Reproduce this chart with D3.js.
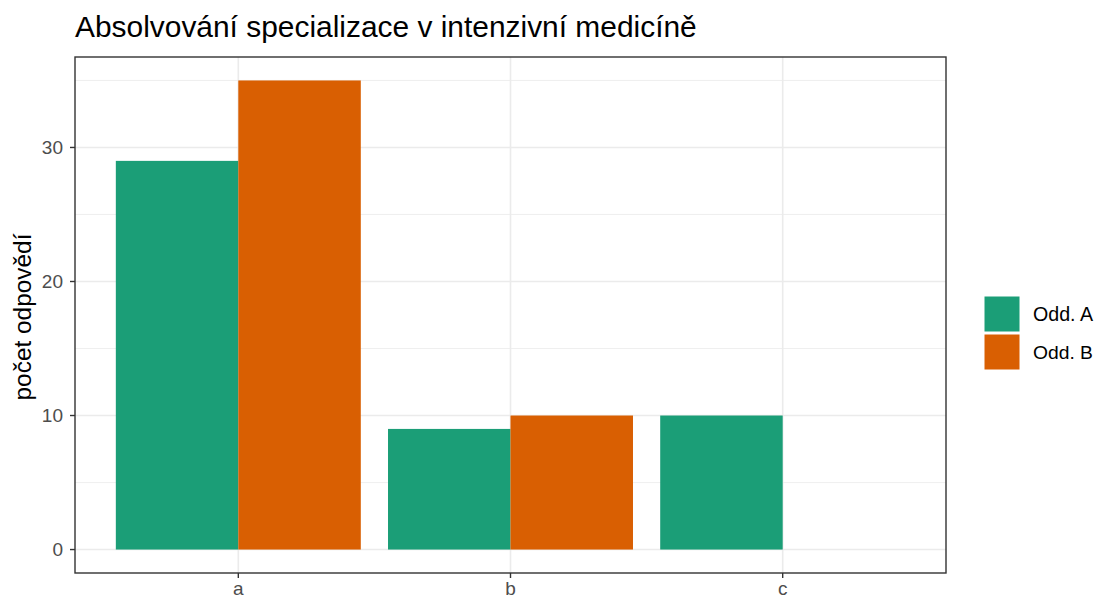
<!DOCTYPE html>
<html><head><meta charset="utf-8">
<script src="https://cdn.jsdelivr.net/npm/d3@7"></script>
<style>body{margin:0;background:#fff}svg{display:block;font-family:"Liberation Sans",Arial,sans-serif}</style>
</head><body><svg id="c" width="1095" height="599"></svg>
<script>
const categories = ["a","b","c"];
const seriesNames = ["Odd. A","Odd. B"];
const oddA = [29, 9, 10];
const oddB = [35, 10, 0];
const colors = ["#1B9E77","#D95F02"];
const yTicks = [0,10,20,30];
const yMinor = [5,15,25,35];
const title = "Absolvování specializace v intenzivní medicíně";
const yTitle = "počet odpovědí";

const svg = d3.select("#c");
const P = {l:75, r:946, t:57, b:573};
// ggplot discrete axis: expand 0.6 units each side
const x = d3.scalePoint().domain(categories).range([P.l,P.r]).padding(0.6);
const unit = x.step();
const yMax = 35;
const y = d3.scaleLinear().domain([-yMax*0.05, yMax*1.05]).range([P.b,P.t]);

function fit(sel, target){
  const w = sel.node().getComputedTextLength();
  const fs = +sel.attr("font-size");
  sel.attr("font-size", fs*target/w);
  return sel;
}

const g = svg.append("g");
g.selectAll(".mi").data(yMinor).enter().append("line")
 .attr("x1",P.l).attr("x2",P.r).attr("y1",d=>y(d)).attr("y2",d=>y(d))
 .attr("stroke","#EBEBEB").attr("stroke-width",0.8);
g.selectAll(".ma").data(yTicks).enter().append("line")
 .attr("x1",P.l).attr("x2",P.r).attr("y1",d=>y(d)).attr("y2",d=>y(d))
 .attr("stroke","#EBEBEB").attr("stroke-width",1.6);
g.selectAll(".vx").data(categories).enter().append("line")
 .attr("x1",d=>x(d)).attr("x2",d=>x(d)).attr("y1",P.t).attr("y2",P.b)
 .attr("stroke","#EBEBEB").attr("stroke-width",1.6);

const series = [oddA, oddB];
const bw = unit*0.45;
series.forEach((vals,si)=>{
  g.selectAll(".b"+si).data(categories).enter().append("rect")
   .attr("x",d=>x(d)-unit*0.45+si*bw)
   .attr("width",bw)
   .attr("y",(d,i)=>y(vals[i]))
   .attr("height",(d,i)=>y(0)-y(vals[i]))
   .attr("fill",colors[si]);
});

g.append("rect").attr("x",P.l).attr("y",P.t).attr("width",P.r-P.l).attr("height",P.b-P.t)
 .attr("fill","none").attr("stroke","#333333").attr("stroke-width",1.4);

const tickFs = 19;
yTicks.forEach(t=>{
  g.append("line").attr("x1",P.l-5).attr("x2",P.l).attr("y1",y(t)).attr("y2",y(t)).attr("stroke","#333").attr("stroke-width",1.4);
  g.append("text").attr("x",P.l-12).attr("y",y(t)).attr("dy","0.36em").attr("text-anchor","end")
   .attr("font-size",tickFs).attr("fill","#4D4D4D").text(t);
});
categories.forEach(c=>{
  g.append("line").attr("x1",x(c)).attr("x2",x(c)).attr("y1",P.b).attr("y2",P.b+5).attr("stroke","#333").attr("stroke-width",1.4);
  g.append("text").attr("x",x(c)).attr("y",P.b+22).attr("text-anchor","middle")
   .attr("font-size",tickFs).attr("fill","#4D4D4D").text(c);
});

fit(svg.append("text").attr("x",P.l).attr("y",37).attr("font-size",26).attr("fill","#000").text(title), 622);
fit(svg.append("text").attr("transform",`translate(31,${(P.t+P.b)/2 + 2}) rotate(-90)`).attr("text-anchor","middle")
 .attr("font-size",20).attr("fill","#000").text(yTitle), 167);

seriesNames.forEach((n,i)=>{
  const ky = 296 + i*38;
  svg.append("rect").attr("x",984).attr("y",ky).attr("width",36).attr("height",36)
   .attr("fill",colors[i]).attr("stroke","#fff").attr("stroke-width",1);
  fit(svg.append("text").attr("x",1033).attr("y",ky+18).attr("dy","0.36em").attr("font-size",18).attr("fill","#000").text(n), 60);
});
</script></body></html>
